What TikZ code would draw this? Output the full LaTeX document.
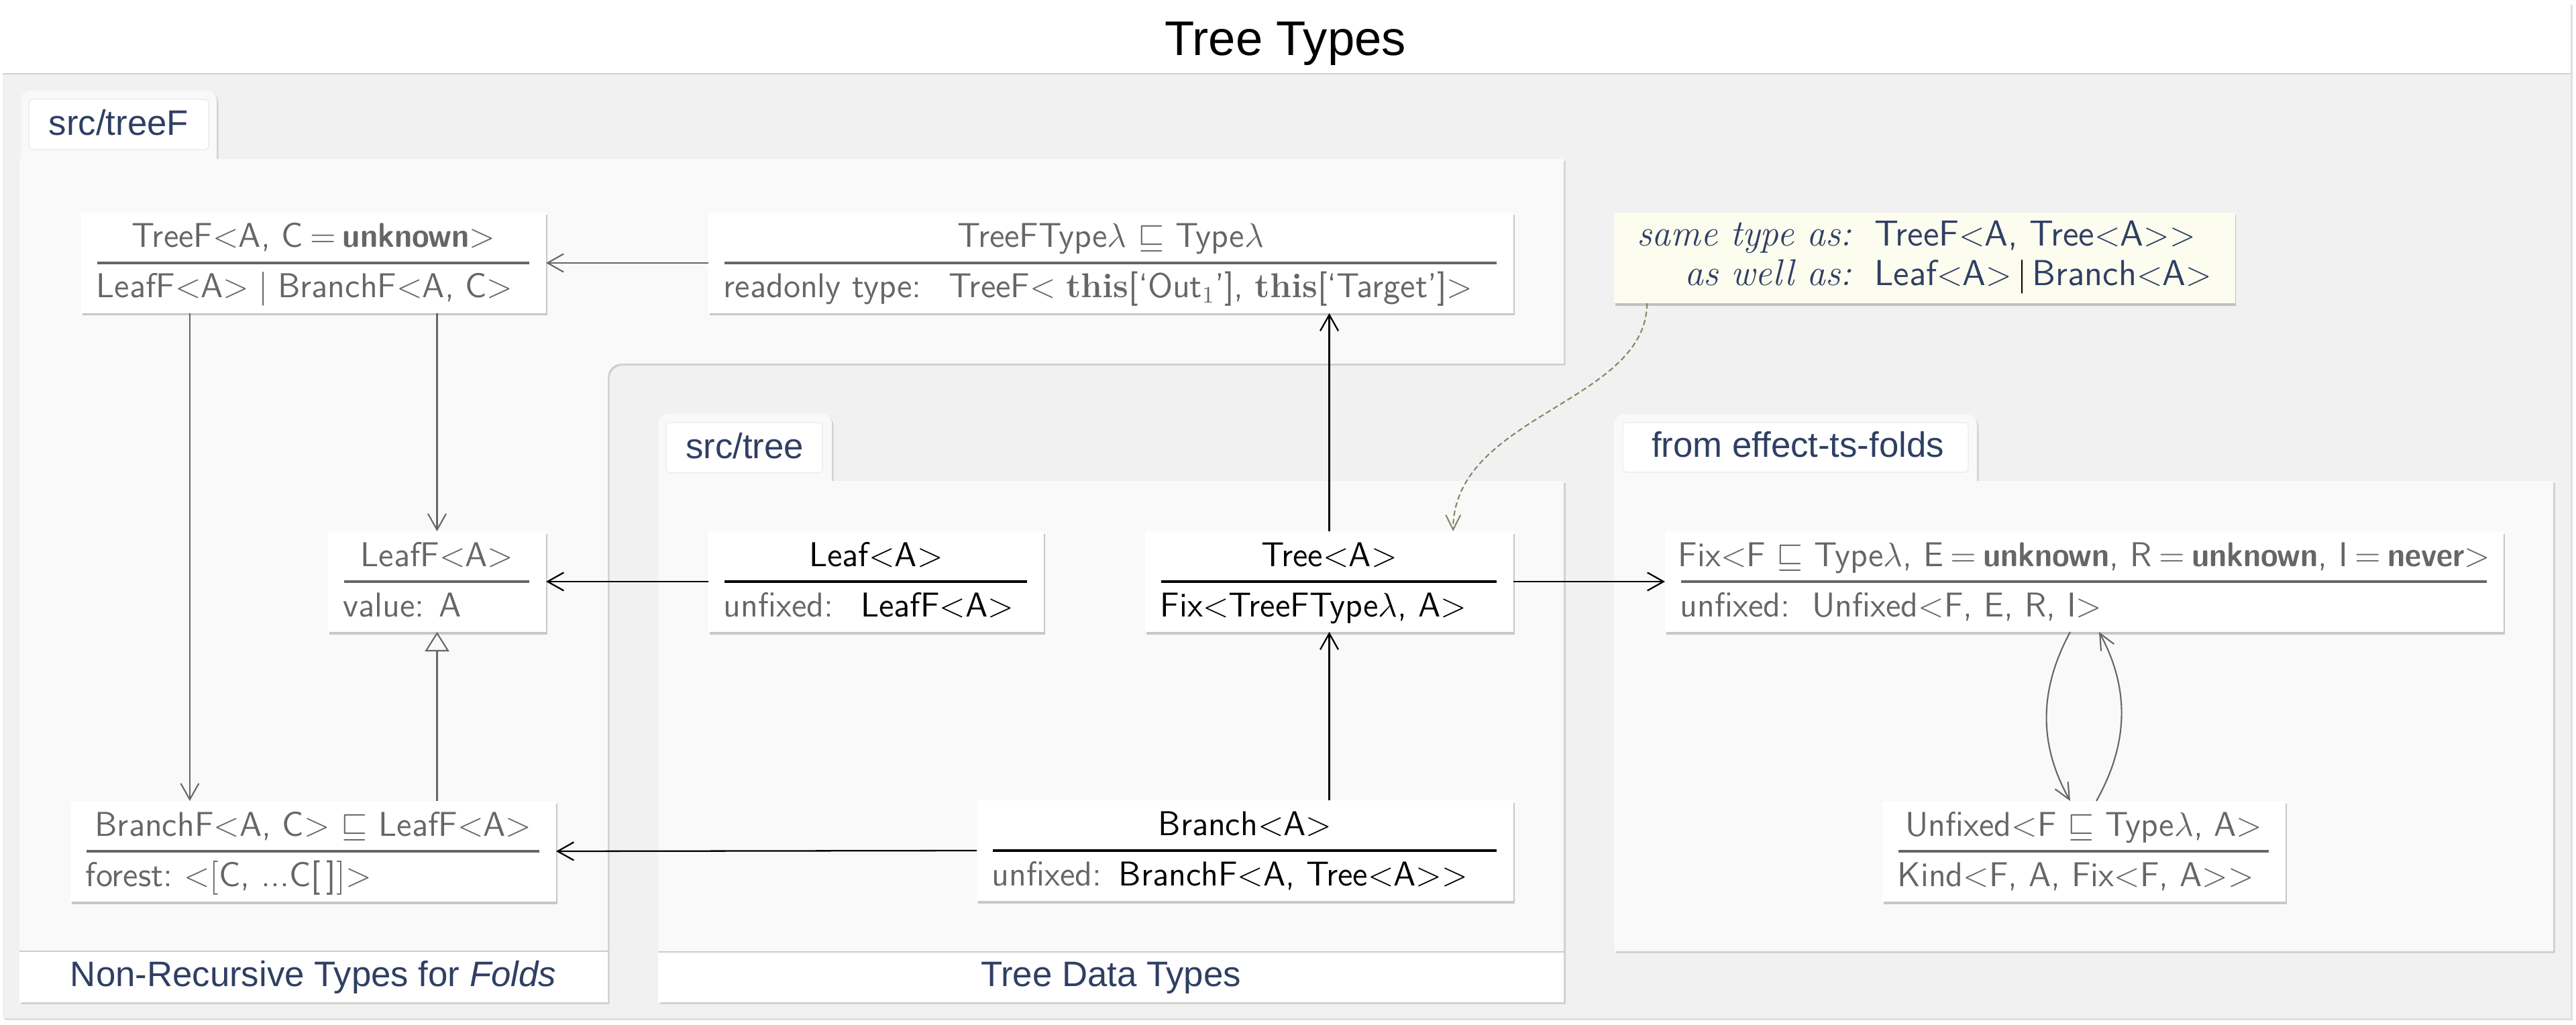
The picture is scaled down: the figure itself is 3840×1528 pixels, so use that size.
\documentclass[tikz,border=0pt]{standalone}
\usepackage{amssymb}
\usepackage{graphicx}
\usepackage{fontspec}
\usetikzlibrary{arrows.meta,shadows,fit,calc}
\newfontfamily\uifont{Liberation Sans}
\definecolor{bgray}{HTML}{F1F1F1}
\definecolor{panelc}{HTML}{F9F9F9}
\definecolor{navy}{RGB}{47,63,100}
\definecolor{gtext}{HTML}{666666}
\definecolor{footline}{HTML}{C8CCD4}
\definecolor{notefill}{RGB}{252,252,239}
\definecolor{dashc}{RGB}{136,134,100}
\definecolor{labeledge}{HTML}{E8E8E8}
\newcommand\lab{\ensuremath{<}}
\newcommand\rab{\ensuremath{>}}
\newcommand\sqs{\ensuremath{\sqsubseteq}}
\newcommand\lam{\ensuremath{\lambda}}
\newcommand\eqs{\hspace{0.2em}\ensuremath{=}\hspace{0.2em}}
\newcommand\bw[1]{\scalebox{0.91}[1]{\textbf{#1}}}
\newcommand\nodefont{\fontsize{14.6pt}{16.8pt}\selectfont\sffamily}
\newcommand\notefont{\fontsize{15.3pt}{16.8pt}\selectfont\sffamily}
\newcommand\noteit{\fontsize{15.8pt}{16.8pt}\selectfont\rmfamily\itshape}
\newcommand\labfont{\uifont\fontsize{15pt}{18pt}\selectfont}
\tikzset{
  pshadow/.style={drop shadow={shadow xshift=0.025cm, shadow yshift=-0.03cm, opacity=0.13, fill=black}},
  cbox/.style={fill=white, inner sep=0pt, outer sep=0pt, drop shadow={shadow xshift=0.015cm, shadow yshift=-0.035cm, opacity=0.2, fill=black}},
  ctext/.style={inner sep=0pt, font=\nodefont},
  labtext/.style={inner sep=0pt, font=\labfont, text=navy},
  tabbox/.style={fill=white, draw=labeledge, line width=0.3pt, rounded corners=0.06cm},
  garrow/.style={draw=gtext, line width=0.6pt, -{Straight Barb[length=0.24cm,width=0.27cm]}},
  gtri/.style={draw=gtext, line width=0.6pt, -{Triangle[open,length=0.29cm,width=0.36cm]}},
  barrow/.style={draw=black, line width=0.65pt, -{Straight Barb[length=0.24cm,width=0.27cm]}},
  dasharrow/.style={draw=dashc, line width=0.6pt, dash pattern=on 0.08cm off 0.045cm, -{Straight Barb[length=0.22cm,width=0.22cm]}},
  curvearrow/.style={draw=gtext, line width=0.6pt, -{Straight Barb[length=0.24cm,width=0.22cm]}},
  notebox/.style={fill=notefill, inner ysep=0pt, inner xsep=0.25cm, outer sep=0pt, drop shadow={shadow xshift=0.015cm, shadow yshift=-0.035cm, opacity=0.2, fill=black}},
}
\newcommand{\classbox}[8]{%
  \node[cbox, fit={(#2,#3) (#4,#3+150)}] (#1) {};
  \draw[line width=1.1pt, draw=#8] ($(#1.north west)+(24,75)$) -- ($(#1.north east)+(-25,75)$);
  \node[ctext, text=#7, anchor=base] (#1-head) at ($(#1.north)+(0,52)$) {#5};
  \node[ctext, text=#7, anchor=base west] (#1-body) at ($(#1.north west)+(22,127)$) {#6};
}
\begin{document}
\begin{tikzpicture}[x=0.01cm, y=-0.01cm]
\useasboundingbox (0,0) rectangle (3840,1528);
\fill[white] (0,0) rectangle (3840,1528);
% outer frame
\fill[white, pshadow] (4,4) rectangle (3832,1518);
\fill[bgray] (4,110) rectangle (3832,1518);
\draw[draw=black!18, line width=0.6pt] (4,110) -- (3832,110);
\node[inner sep=0pt, anchor=base, font=\uifont\fontsize{20.6pt}{24pt}\selectfont] (title) at (1916,83) {Tree Types};

% panel A (src/treeF)
\fill[panelc, pshadow, rounded corners=0.15cm] (31,135) rectangle (323,280);
\fill[panelc, pshadow] (29,237) -- (2331,237) -- (2331,542) -- (926,542) .. controls (915,542) and (906,551) .. (906,562) -- (906,1494) -- (29,1494) -- cycle;
\fill[white] (29,1418) rectangle (906,1494);
\draw[footline, line width=0.7pt] (29,1418) -- (906,1418);
\path[tabbox] (43,148) rectangle (311,223);
\node[labtext, anchor=base] (tabA) at (177,202) {src/treeF};
\node[labtext, anchor=base] (footA) at (467,1470) {Non-Recursive Types for \textit{Folds}};

% panel B (src/tree)
\fill[panelc, pshadow, rounded corners=0.15cm] (981,617) rectangle (1240,760);
\fill[panelc, pshadow] (981,717) rectangle (2331,1494);
\fill[white] (981,1419) rectangle (2331,1494);
\draw[footline, line width=0.7pt] (981,1419) -- (2331,1419);
\path[tabbox] (993,630) rectangle (1226,705);
\node[labtext, anchor=base] (tabB) at (1110,683) {src/tree};
\node[labtext, anchor=base] (footB) at (1656,1470) {Tree Data Types};

% panel C (from effect-ts-folds)
\fill[panelc, pshadow, rounded corners=0.15cm] (2406,618) rectangle (2947,760);
\fill[panelc, pshadow] (2406,717) rectangle (3806,1418);
\path[tabbox] (2419,630) rectangle (2934,704);
\node[labtext, anchor=base] (tabC) at (2680,682) {from effect-ts-folds};

% note
\node[notebox, anchor=north west, minimum width=9.25cm, minimum height=1.35cm, align=left, text=navy, font=\notefont] (note) at (2406,317)
 {\begin{tabular}{@{}r@{\hspace{0.34cm}}l@{}}
  \noteit same type as: & TreeF\lab A, Tree\lab A\rab\rab\\
  \noteit as well as: & Leaf\lab A\rab\hspace{0.15em}\textcolor{black}{$|$}\hspace{0.15em}Branch\lab A\rab
  \end{tabular}};

% class boxes
\classbox{treeF}{121}{317}{814}{TreeF\lab A, C\eqs\bw{unknown}\rab}{LeafF\lab A\rab\hspace{0.28em}$|$\hspace{0.28em}BranchF\lab A, C\rab}{gtext}{gtext}
\classbox{tfType}{1056}{317}{2256}{TreeFType\lam\ \sqs\ Type\lam}{readonly type:\hspace{0.8em}TreeF\lab\hspace{0.3em}\textbf{\rmfamily this}[‘Out$_1$’], \textbf{\rmfamily this}[‘Target’]\rab}{gtext}{gtext}
\classbox{leafF}{489}{792}{814}{LeafF\lab A\rab}{value: A}{gtext}{gtext}
\classbox{branchF}{105}{1194}{829}{BranchF\lab A, C\rab\ \sqs\ LeafF\lab A\rab}{forest:\ \lab$[$C, ...C[\,]$]$\rab}{gtext}{gtext}
\classbox{leaf}{1056}{792}{1556}{Leaf\lab A\rab}{\textcolor{gtext}{unfixed:}\hspace{0.8em}LeafF\lab A\rab}{black}{black}
\classbox{tree}{1707}{792}{2256}{Tree\lab A\rab}{Fix\lab TreeFType\lam, A\rab}{black}{black}
\classbox{branch}{1456}{1193}{2256}{Branch\lab A\rab}{\textcolor{gtext}{unfixed:}\hspace{0.5em}BranchF\lab A, Tree\lab A\rab\rab}{black}{black}
\classbox{fix}{2482}{792}{3732}{Fix\lab F \sqs\ Type\lam, E\eqs\bw{unknown}, R\eqs\bw{unknown}, I\eqs\bw{never}\rab}{unfixed:\hspace{0.65em}Unfixed\lab F, E, R, I\rab}{gtext}{gtext}
\classbox{unfixed}{2806}{1194}{3407}{Unfixed\lab F \sqs\ Type\lam, A\rab}{Kind\lab F, A, Fix\lab F, A\rab\rab}{gtext}{gtext}

% connectors
\coordinate (tfA) at ([xshift=-1.845cm]treeF.south);
\coordinate (noteS) at ([xshift=0.49cm]note.south west);
\coordinate (treeN) at ([xshift=1.845cm]tree.north);
\coordinate (fixL) at ([xshift=-0.21cm]fix.south);
\coordinate (fixR) at ([xshift=0.22cm]fix.south);
\coordinate (unfL) at ([xshift=-0.205cm]unfixed.north);
\coordinate (unfR) at ([xshift=0.185cm]unfixed.north);
\draw[garrow] (tfType.west) -- (treeF.east);
\draw[garrow] (treeF.south -| leafF.north) -- (leafF.north);
\draw[garrow] (tfA) -- (tfA |- branchF.north);
\draw[gtri] (branchF.north -| leafF.south) -- (leafF.south);
\draw[barrow] (leaf.west) -- (leafF.east);
\draw[barrow] (branch.west) -- (branchF.east);
\draw[barrow] (tree.north) -- (tree.north |- tfType.south);
\draw[barrow] (branch.north -| tree.south) -- (tree.south);
\draw[barrow] (tree.east) -- (fix.west);
\draw[dasharrow] (noteS) .. controls +(0,148) and +(0,-173) .. (treeN);
\draw[curvearrow] (fixL) .. controls +(-47,87) and +(-47,-84) .. (unfL);
\draw[curvearrow] (unfR) .. controls +(47,-84) and +(47,87) .. (fixR);
\end{tikzpicture}
\end{document}
